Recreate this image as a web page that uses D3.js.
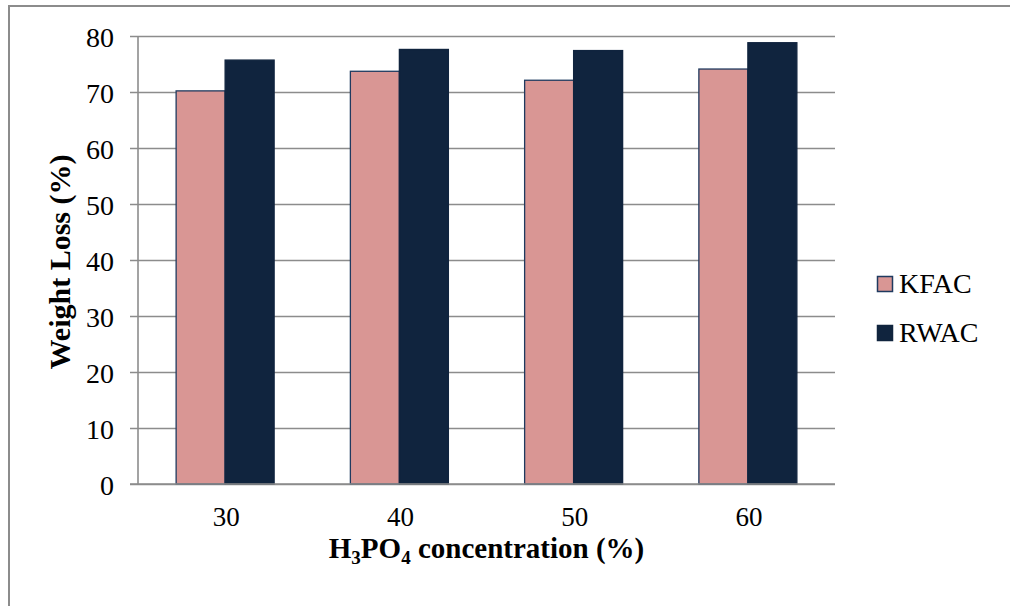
<!DOCTYPE html>
<html>
<head>
<meta charset="utf-8">
<script src="https://cdn.jsdelivr.net/npm/d3@7"></script>
<style>
  html, body { margin: 0; padding: 0; background: #ffffff; }
  svg { display: block; }
  text { font-family: "Liberation Serif", "Times New Roman", serif; fill: #000; }
</style>
</head>
<body>
<svg id="chart" width="1010" height="606"></svg>
<script>
// ---- data ----
const categories = ["30", "40", "50", "60"];
const seriesNames = ["KFAC", "RWAC"];
const kfacValues = [70.2, 73.7, 72.1, 74.1];
const rwacValues = [75.7, 77.6, 77.4, 78.8];
const yTicks = [0, 10, 20, 30, 40, 50, 60, 70, 80];
const yTitle = "Weight Loss (%)";

const colors = { KFAC: "#D99694", RWAC: "#10243E" };
const strokes = { KFAC: "#1F3A5F", RWAC: "#10243E" };

const svg = d3.select("#chart");

// outer chart border (extends past right/bottom edges)
svg.append("rect")
  .attr("x", 9).attr("y", 6)
  .attr("width", 1100).attr("height", 700)
  .attr("fill", "#fff")
  .attr("stroke", "#8c8c8c").attr("stroke-width", 2);

const plot = { left: 138, right: 835, top: 36, bottom: 484 };

const x = d3.scaleBand().domain(categories).range([plot.left, plot.right]);
const x1 = d3.scaleBand().domain(seriesNames).range([0, 98]);
const y = d3.scaleLinear().domain([0, 80]).range([plot.bottom, plot.top]);

// gridlines + y ticks via axis
const yAxis = d3.axisLeft(y).tickValues(yTicks)
  .tickSize(-(plot.right - plot.left)).tickSizeOuter(0).tickPadding(0)
  .tickFormat(d3.format("d"));
const gy = svg.append("g").attr("transform", `translate(${plot.left},0)`).call(yAxis);
gy.attr("font-family", null);
gy.select(".domain").remove();
gy.selectAll(".tick line").attr("stroke", "#8c8c8c").attr("stroke-width", 1.6)
  .attr("x1", -8);
gy.selectAll(".tick text").attr("x", -24).attr("dy", null).attr("y", 10.5)
  .style("font-size", "28px")
  .attr("text-anchor", "end").attr("fill", "#000");

// vertical axis line
svg.append("line")
  .attr("x1", plot.left).attr("x2", plot.left)
  .attr("y1", y(80)).attr("y2", y(0))
  .attr("stroke", "#8c8c8c").attr("stroke-width", 1.6);

// bars
const rows = categories.map((c, i) => ({ cat: c, KFAC: kfacValues[i], RWAC: rwacValues[i] }));
const groups = svg.append("g").selectAll("g").data(rows).join("g")
  .attr("transform", d => `translate(${x(d.cat) + x.bandwidth() / 2 - 49},0)`);
groups.selectAll("rect")
  .data(d => seriesNames.map(k => ({ key: k, value: d[k] })))
  .join("rect")
  .attr("x", d => x1(d.key))
  .attr("width", x1.bandwidth())
  .attr("y", d => y(d.value))
  .attr("height", d => y(0) - y(d.value))
  .attr("fill", d => colors[d.key])
  .attr("stroke", d => strokes[d.key])
  .attr("stroke-width", 1.3);

// redraw x baseline on top
svg.append("line")
  .attr("x1", plot.left - 8).attr("x2", plot.right)
  .attr("y1", y(0)).attr("y2", y(0))
  .attr("stroke", "#8c8c8c").attr("stroke-width", 1.6);

// x tick labels
const xAxis = d3.axisBottom(x).tickSize(0).tickPadding(0);
const gx = svg.append("g").attr("transform", `translate(1,0)`).call(xAxis);
gx.attr("font-family", null);
gx.select(".domain").remove();
gx.selectAll(".tick text").attr("y", 526).attr("dy", null)
  .style("font-size", "27px")
  .attr("fill", "#000");

// x title with subscripts
const xt = svg.append("text")
  .attr("x", (plot.left + plot.right) / 2).attr("y", 558)
  .attr("text-anchor", "middle")
  .style("font-size", "29px").style("font-weight", "bold");
xt.append("tspan").text("H");
xt.append("tspan").text("3").attr("dy", 6).style("font-size", "19px");
xt.append("tspan").text("PO").attr("dy", -6);
xt.append("tspan").text("4").attr("dy", 6).style("font-size", "19px");
xt.append("tspan").text(" concentration (%)").attr("dy", -6);

// y title
svg.append("text")
  .attr("transform", "translate(70,262) rotate(-90)")
  .attr("text-anchor", "middle")
  .style("font-size", "30px").style("font-weight", "bold")
  .text(yTitle);

// legend
const legend = svg.append("g").selectAll("g").data(seriesNames).join("g")
  .attr("transform", (d, i) => `translate(877,${276 + i * 49})`);
legend.append("rect")
  .attr("x", 0.5).attr("y", 0.5).attr("width", 15).attr("height", 15)
  .attr("fill", d => colors[d]).attr("stroke", d => strokes[d]).attr("stroke-width", 1.5);
legend.append("text")
  .attr("x", 22).attr("y", 17)
  .style("font-size", "28px")
  .text(d => d);
</script>
</body>
</html>
